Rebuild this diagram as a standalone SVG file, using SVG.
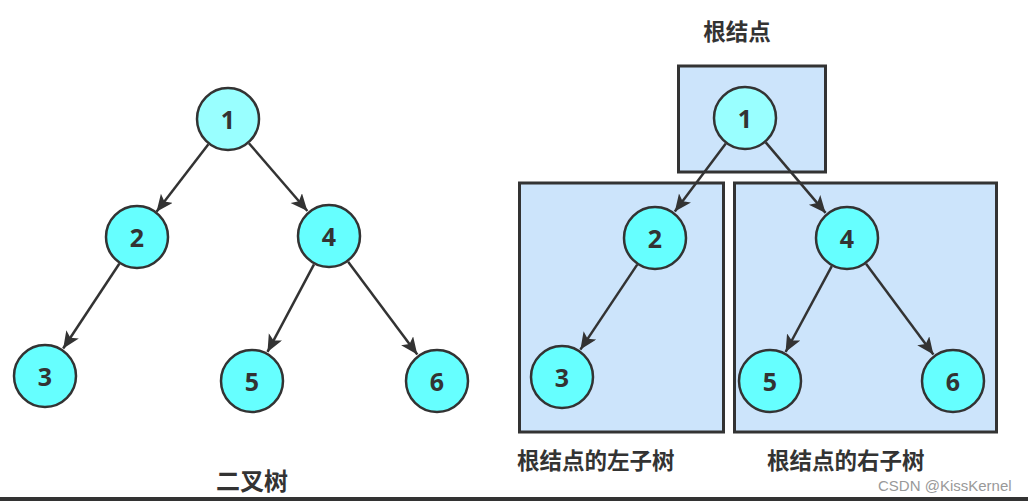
<svg xmlns="http://www.w3.org/2000/svg" width="1028" height="501" viewBox="0 0 1028 501">
<style>
.n circle{fill:#66ffff;stroke:#333;stroke-width:2.5}
.n.r circle{fill:#99ffff}
.n text{font-family:"Noto Sans","Liberation Sans",sans-serif;font-weight:bold;font-size:25px;fill:#333;text-anchor:middle;dominant-baseline:central}
.box{fill:#cce4fb;stroke:#333;stroke-width:3}
.lbl{font-family:"Noto Sans CJK SC",sans-serif;font-weight:bold;font-size:22.5px;fill:#333}
#edges line{stroke:#333;stroke-width:2.5}
</style>
<defs>
<marker id="ah" markerUnits="userSpaceOnUse" markerWidth="20" markerHeight="16" refX="17" refY="7.5" orient="auto">
<path d="M0,0 L17,7.5 L0,15 L4,7.5 z" fill="#333"/>
</marker>
</defs>
<rect width="1028" height="501" fill="#fff"/>
<g id="boxes">
<rect class="box" x="678.5" y="66" width="147" height="106"/>
<rect class="box" x="519.5" y="183" width="204" height="249"/>
<rect class="box" x="734.5" y="183" width="262" height="249"/>
</g>
<g id="edges">
<line x1="208.4" y1="144.3" x2="156.5" y2="211.7" marker-end="url(#ah)"/>
<line x1="248.9" y1="143.2" x2="307.4" y2="211" marker-end="url(#ah)"/>
<line x1="119.3" y1="263.7" x2="63.2" y2="348.5" marker-end="url(#ah)"/>
<line x1="314" y1="264.3" x2="267.5" y2="351.9" marker-end="url(#ah)"/>
<line x1="348.1" y1="261.7" x2="417.3" y2="354.5" marker-end="url(#ah)"/>
<line x1="725.8" y1="143.6" x2="674.8" y2="211.6" marker-end="url(#ah)"/>
<line x1="765.7" y1="142.4" x2="825.6" y2="212.9" marker-end="url(#ah)"/>
<line x1="637.2" y1="264.6" x2="580.4" y2="349.6" marker-end="url(#ah)"/>
<line x1="831.8" y1="266.2" x2="785.6" y2="352" marker-end="url(#ah)"/>
<line x1="866" y1="263.7" x2="933.4" y2="354.5" marker-end="url(#ah)"/>
</g>
<g id="L1" class="n r"><circle cx="228" cy="119" r="31"/><text x="228" y="119">1</text></g>
<g id="L2" class="n"><circle cx="137" cy="237" r="31"/><text x="137" y="237">2</text></g>
<g id="L4" class="n"><circle cx="329" cy="236" r="31"/><text x="329" y="236">4</text></g>
<g id="L3" class="n"><circle cx="45" cy="376" r="31"/><text x="45" y="376">3</text></g>
<g id="L5" class="n"><circle cx="252" cy="381" r="31"/><text x="252" y="381">5</text></g>
<g id="L6" class="n"><circle cx="437" cy="381" r="31"/><text x="437" y="381">6</text></g>
<g id="R1" class="n r"><circle cx="745" cy="118" r="31"/><text x="745" y="118">1</text></g>
<g id="R2" class="n"><circle cx="655" cy="238" r="31"/><text x="655" y="238">2</text></g>
<g id="R4" class="n"><circle cx="847" cy="238" r="31"/><text x="847" y="238">4</text></g>
<g id="R3" class="n"><circle cx="562" cy="377" r="31"/><text x="562" y="377">3</text></g>
<g id="R5" class="n"><circle cx="770" cy="381" r="31"/><text x="770" y="381">5</text></g>
<g id="R6" class="n"><circle cx="953" cy="381" r="31"/><text x="953" y="381">6</text></g>
<g id="labels">
<text class="lbl" x="737" y="40" text-anchor="middle">根结点</text>
<text class="lbl" x="517" y="469">根结点的左子树</text>
<text class="lbl" x="767" y="469">根结点的右子树</text>
<text class="lbl" x="216" y="490" style="font-size:24px">二叉树</text>
<text x="878" y="491" font-family="Liberation Sans, sans-serif" font-size="15" fill="#999">CSDN @KissKernel</text>
</g>
<rect x="0" y="497" width="1028" height="4" fill="#333"/>
</svg>
